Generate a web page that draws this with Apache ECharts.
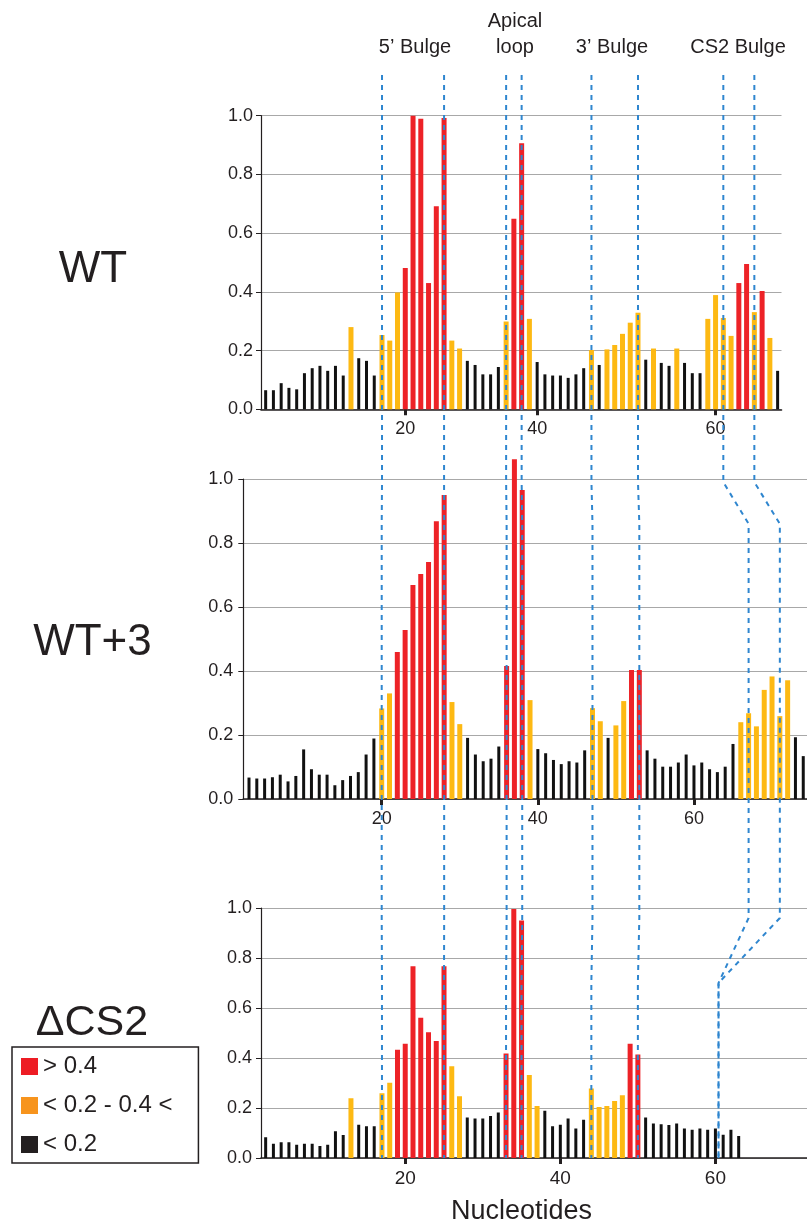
<!DOCTYPE html>
<html><head><meta charset="utf-8">
<script src="https://cdn.jsdelivr.net/npm/echarts@6/dist/echarts.min.js"></script>
<style>html,body{margin:0;padding:0;background:#fff}#c{width:807px;height:1226px}</style>
</head><body><div id="c"></div>
<script>
const FONT = '"Liberation Sans", Arial, Helvetica, sans-serif';
const INK = '#231f20';
const RED = '#ed2227', ORANGE = '#fdb913', BLACK = '#111111';
const LEG_COLORS = ['#ed1c24', '#f7941d', '#231f20'];

// ---- data (nucleotide index of first bar, then reactivity values) ----
const wtStart = 2;
const wtValues = [0.065,0.065,0.089,0.073,0.068,0.123,0.140,0.148,0.131,0.148,0.115,0.280,0.174,0.165,0.115,
  0.253,0.234,0.398,0.481,1.000,0.990,0.430,0.692,0.992,0.234,0.207,
  0.165,0.151,0.119,0.119,0.144,0.299,0.649,0.906,0.308,
  0.161,0.119,0.115,0.115,0.107,0.119,0.140,
  0.202,0.151,0.204,0.219,0.257,0.295,0.329,
  0.169,0.207,0.158,0.148,0.207,0.158,0.123,0.123,
  0.308,0.389,0.311,0.250,0.430,0.495,0.331,0.403,0.243,0.131];

const wt3Start = 3;
const wt3Values = [0.067,0.064,0.064,0.068,0.076,0.055,0.072,0.155,0.093,0.076,0.076,0.043,0.059,0.072,0.084,0.139,0.189,
  0.283,0.330,0.459,0.528,0.669,0.703,0.741,0.868,0.950,
  0.303,0.234,0.191,0.139,0.118,0.126,0.164,
  0.416,1.062,0.966,0.309,
  0.156,0.143,0.122,0.109,0.118,0.114,0.152,
  0.284,0.243,0.191,0.230,0.306,0.403,0.403,
  0.152,0.126,0.101,0.101,0.114,0.139,0.105,0.114,0.093,0.084,0.101,0.172,
  0.240,0.268,0.227,0.341,0.383,0.259,0.371,
  0.193,0.134];

const dcs2Start = 2;
const dcs2Values = [0.083,0.057,0.063,0.063,0.053,0.057,0.057,0.048,0.053,0.107,0.092,
  0.239,0.133,0.127,0.127,
  0.259,0.301,0.433,0.457,0.767,0.561,0.503,0.468,0.767,0.367,0.247,
  0.162,0.158,0.158,0.168,0.182,
  0.418,0.996,0.950,0.332,0.208,
  0.189,0.127,0.133,0.158,0.118,0.153,
  0.278,0.204,0.208,0.228,0.251,0.457,0.414,
  0.162,0.138,0.135,0.132,0.138,0.118,0.113,0.118,0.113,0.118,0.093,0.113,0.088];

// tick labels, and where the figure puts them on each panel's nucleotide axis
const tickLabels = ['20', '40', '60'];
const wtTickPos = [20, 37, 60];
const wt3TickPos = [20, 40, 60];
const dcs2TickPos = [20, 40, 60];

// bulge boundaries (nucleotide numbers) per construct
const regionsWT   = [[17,25],[33,35],[44,50],[61,65]];
const regionsWT3  = [[20,28],[36,38],[47,53],[67,71]];
const regionsDCS2 = [[17,25],[33,35],[44,50],[60.4,60.4]];

const panelNames = ['WT', 'WT+3', 'ΔCS2'];
const legendNames = ['> 0.4', '< 0.2 - 0.4 <', '< 0.2'];

// ---- layout ----
const grids = [
  {left:261,   top:115.7, width:520.5, height:293.6},
  {left:243.3, top:479,   width:563.7, height:320},
  {left:261,   top:908,   width:546,   height:257.7}
];
const xRanges = [[1.4, 68.5], [2.27, 74.48], [1.4, 71.81]];
const tickPos = [wtTickPos, wt3TickPos, dcs2TickPos];
const yLabelMargin = [8, 10, 9];

function colorOf(v){ return v > 0.4 ? RED : (v >= 0.2 ? ORANGE : BLACK); }

function barSeries(i, start, values){
  const col = [], blk = [];
  values.forEach((v, k) => {
    const n = start + k;
    if (v >= 0.2) col.push({value:[n, v], itemStyle:{color: colorOf(v)}});
    else blk.push({value:[n, v], itemStyle:{color: BLACK}});
  });
  const common = {type:'bar', xAxisIndex:i, yAxisIndex:i, barGap:'-80%', clip:false, silent:true};
  return [
    Object.assign({name:'c'+i, data:col, barWidth:5}, common),
    Object.assign({name:'k'+i, data:blk, barWidth:3}, common),
    Object.assign({name:'d'+i, data:[], barWidth:3.4}, common)
  ];
}

const xAxes = grids.map((g, i) => ({
  type:'value', gridIndex:i, min:xRanges[i][0], max:xRanges[i][1],
  splitLine:{show:false},
  axisLine:{show:true, onZero:false, lineStyle:{color:INK, width:1.6}},
  axisTick:{show:true, customValues:tickPos[i], length:6, lineStyle:{color:INK, width:3}},
  axisLabel:{customValues:tickPos[i], margin:11, fontSize:i === 2 ? 19 : 18, color:INK, fontFamily:FONT,
    formatter: v => { const j = tickPos[i].indexOf(Math.round(v)); return j >= 0 ? tickLabels[j] : ''; }},
  name: i === 2 ? 'Nucleotides' : '', nameLocation:'middle', nameGap:40,
  nameTextStyle:{fontSize:27, color:INK, fontFamily:FONT, padding:[0, 25, 0, 0]}
}));

const yAxes = grids.map((g, i) => ({
  type:'value', gridIndex:i, min:0, max:1, interval:0.2,
  axisLine:{show:true, lineStyle:{color:INK, width:1.2}},
  axisTick:{show:true, length:5, lineStyle:{color:INK}},
  axisLabel:{formatter: v => v.toFixed(1), fontSize:18, margin:yLabelMargin[i], color:INK, fontFamily:FONT},
  splitLine:{show:true, lineStyle:{color:'#a8a8a8', width:1.2}}
}));

const series = [].concat(
  barSeries(0, wtStart, wtValues),
  barSeries(1, wt3Start, wt3Values),
  barSeries(2, dcs2Start, dcs2Values),
  legendNames.map((nm, j) => ({type:'scatter', name:nm, xAxisIndex:0, yAxisIndex:0, data:[],
    itemStyle:{color:LEG_COLORS[j], opacity:1}}))
);

const chart = echarts.init(document.getElementById('c'), null, {renderer:'canvas'});
chart.setOption({
  animation:false,
  backgroundColor:'#ffffff',
  textStyle:{fontFamily:FONT},
  grid: grids.map(g => Object.assign({containLabel:false}, g)),
  xAxis: xAxes,
  yAxis: yAxes,
  legend:{
    data: legendNames.map((n, j) => ({name:n, icon:'rect', itemStyle:{color:LEG_COLORS[j], opacity:1}})),
    orient:'vertical', left:12, top:1047, itemWidth:17, itemHeight:17, itemGap:15,
    padding:[7.5, 26, 6.5, 9], borderColor:INK, borderWidth:1.5, selectedMode:false,
    textStyle:{fontSize:24, color:INK, fontFamily:FONT}
  },
  series: series
});

// ---- annotations: dashed bulge guides and labels ----
function px(i, n){ return chart.convertToPixel({xAxisIndex:i}, n); }
function py(i, v){ return chart.convertToPixel({yAxisIndex:i}, v); }
const TOP = 75;
const graphics = [];
regionsWT.forEach((r, ri) => {
  [0, 1].forEach(j => {
    const a = r[j], b = regionsWT3[ri][j], c = regionsDCS2[ri][j];
    const pts = [
      [px(0, a), TOP], [px(0, a), py(1, 0.99)],
      [px(1, b), py(1, 0.86)], [px(1, b), py(2, 0.96)],
      [px(2, c), py(2, 0.70)], [px(2, c), py(2, 0)]
    ];
    graphics.push({type:'polyline', z:100, silent:true, shape:{points:pts},
      style:{stroke:'#2f86cf', lineWidth:2, lineDash:[5,5], fill:null}});
  });
});
const labelPos = [[415, 47], [515, 34], [612, 47], [738, 47]];
const regionNames = ['5’ Bulge', 'Apical\nloop', '3’ Bulge', 'CS2 Bulge'];
regionNames.forEach((t, k) => {
  graphics.push({type:'text', z:100, x:labelPos[k][0], y:labelPos[k][1], silent:true,
    style:{text:t, fill:INK, font:'20px ' + FONT, align:'center', verticalAlign:'middle', lineHeight:26}});
});
const namePos = [[93, 270, 44], [92.5, 643, 44], [92, 1023, 43]];
panelNames.forEach((t, k) => {
  graphics.push({type:'text', z:100, x:namePos[k][0], y:namePos[k][1], silent:true,
    style:{text:t, fill:INK, font:namePos[k][2] + 'px ' + FONT, align:'center', verticalAlign:'middle'}});
});
chart.setOption({graphic: graphics});
</script>
</body></html>
